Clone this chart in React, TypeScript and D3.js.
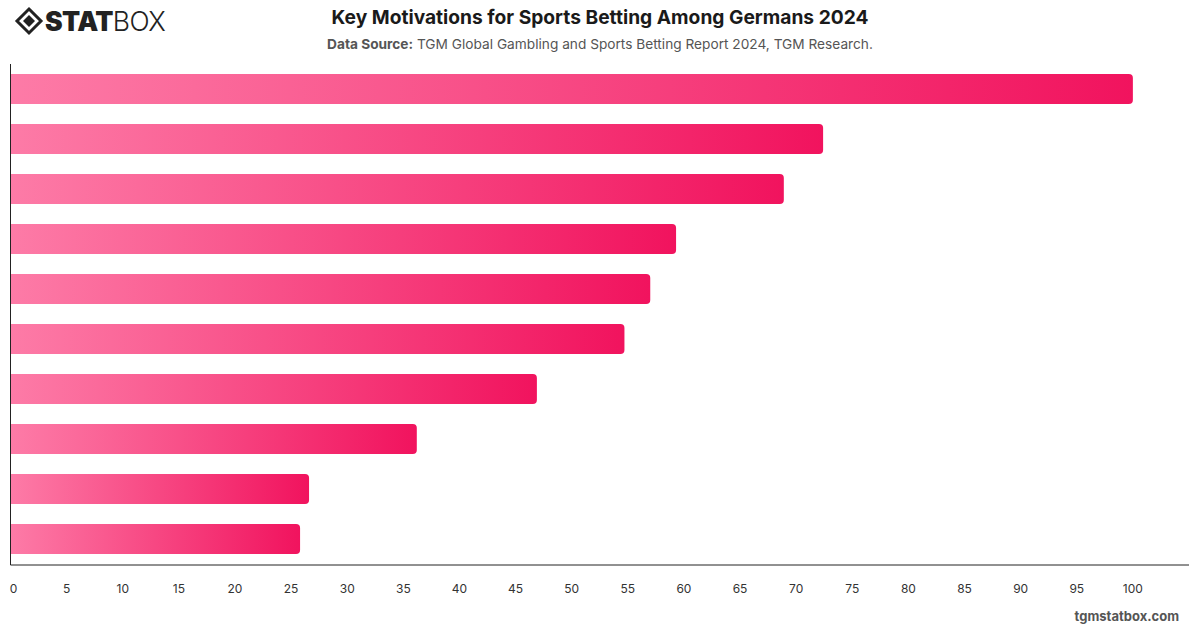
import React, { useEffect, useRef } from "react";
import * as d3 from "d3";

const categories = [
  "Motivation 1",
  "Motivation 2",
  "Motivation 3",
  "Motivation 4",
  "Motivation 5",
  "Motivation 6",
  "Motivation 7",
  "Motivation 8",
  "Motivation 9",
  "Motivation 10",
];
const values = [100, 72.4, 68.9, 59.3, 57.0, 54.7, 46.9, 36.2, 26.6, 25.8];
const xTicks = d3.range(0, 101, 5);

const title = "Key Motivations for Sports Betting Among Germans 2024";
const sourceLabel = "Data Source:";
const sourceText = " TGM Global Gambling and Sports Betting Report 2024, TGM Research.";

const W = 1200;
const H = 628;
const margin = { top: 64, right: 11, bottom: 63, left: 10.5 };

const App = () => {
  const svgRef = useRef(null);

  useEffect(() => {
    const svg = d3.select(svgRef.current);
    svg.selectAll("*").remove();

    const font = "Inter, 'Helvetica Neue', Arial, sans-serif";
    svg.style("font-family", font);

    const x = d3
      .scaleLinear()
      .domain([0, 105])
      .range([margin.left, W - margin.right]);

    const y = d3
      .scaleBand()
      .domain(categories)
      .range([margin.top, H - margin.bottom - 1])
      .paddingInner(0.4)
      .paddingOuter(0.2);

    // per-bar gradient, light pink on the left to deep pink on the right
    const defs = svg.append("defs");
    const grad = defs
      .append("linearGradient")
      .attr("id", "barGrad")
      .attr("x1", "0%")
      .attr("x2", "100%")
      .attr("y1", "0%")
      .attr("y2", "0%");
    grad.append("stop").attr("offset", "0%").attr("stop-color", "#fd7ba7");
    grad.append("stop").attr("offset", "100%").attr("stop-color", "#f1135e");

    // bars: square on the left, rounded on the right
    const r = 4;
    svg
      .append("g")
      .selectAll("path")
      .data(values)
      .join("path")
      .attr("fill", "url(#barGrad)")
      .attr("d", (d, i) => {
        const x0 = x(0);
        const x1 = x(d);
        const y0 = y(categories[i]);
        const h = y.bandwidth();
        return `M${x0},${y0}H${x1 - r}Q${x1},${y0} ${x1},${y0 + r}V${y0 + h - r}Q${x1},${y0 + h} ${x1 - r},${y0 + h}H${x0}Z`;
      });

    // axes lines
    svg
      .append("line")
      .attr("x1", x(0))
      .attr("x2", x(0))
      .attr("y1", margin.top)
      .attr("y2", H - margin.bottom)
      .attr("stroke", "#222")
      .attr("stroke-width", 1);

    svg
      .append("line")
      .attr("x1", x(0))
      .attr("x2", W - margin.right)
      .attr("y1", H - margin.bottom)
      .attr("y2", H - margin.bottom)
      .attr("stroke", "#222")
      .attr("stroke-width", 1);

    svg
      .append("g")
      .selectAll("text")
      .data(xTicks)
      .join("text")
      .attr("x", (d) => (d === 0 ? x(d) + 3 : x(d)))
      .attr("y", 593)
      .attr("text-anchor", "middle")
      .attr("font-size", 12)
      .attr("fill", "#333")
      .text((d) => d);

    // header
    svg
      .append("text")
      .attr("x", 600)
      .attr("y", 24)
      .attr("text-anchor", "middle")
      .attr("font-size", 19.2)
      .attr("font-weight", 700)
      .attr("fill", "#1a1a1a")
      .text(title);

    const sub = svg
      .append("text")
      .attr("x", 600)
      .attr("y", 49)
      .attr("text-anchor", "middle")
      .attr("font-size", 13.7)
      .attr("fill", "#555");
    sub.append("tspan").attr("font-weight", 700).text(sourceLabel);
    sub.append("tspan").text(sourceText);

    // logo
    const logo = svg.append("g").attr("transform", "translate(29,21)");
    logo
      .append("path")
      .attr("d", "M0,-12L12,0L0,12L-12,0Z")
      .attr("fill", "none")
      .attr("stroke", "#222")
      .attr("stroke-width", 3);
    logo
      .append("path")
      .attr("d", "M0,-6L6,0L0,6L-6,0Z")
      .attr("fill", "#222");
    const logoText = svg
      .append("text")
      .attr("x", 45)
      .attr("y", 31)
      .attr("font-size", 26.5)
      .attr("fill", "#222")
      .attr("letter-spacing", -0.6);
    logoText.append("tspan").attr("font-weight", 900).text("STAT");
    logoText.append("tspan").attr("font-weight", 300).text("BOX");

    // footer
    svg
      .append("text")
      .attr("x", 1179)
      .attr("y", 621)
      .attr("text-anchor", "end")
      .attr("font-size", 13)
      .attr("font-weight", 700)
      .attr("fill", "#555")
      .text("tgmstatbox.com");

    return () => {
      svg.selectAll("*").remove();
    };
  }, []);

  return (
    <svg
      ref={svgRef}
      width={W}
      height={H}
      style={{ position: "absolute", left: 0, top: 0, background: "#fff" }}
    ></svg>
  );
};

export default App;
